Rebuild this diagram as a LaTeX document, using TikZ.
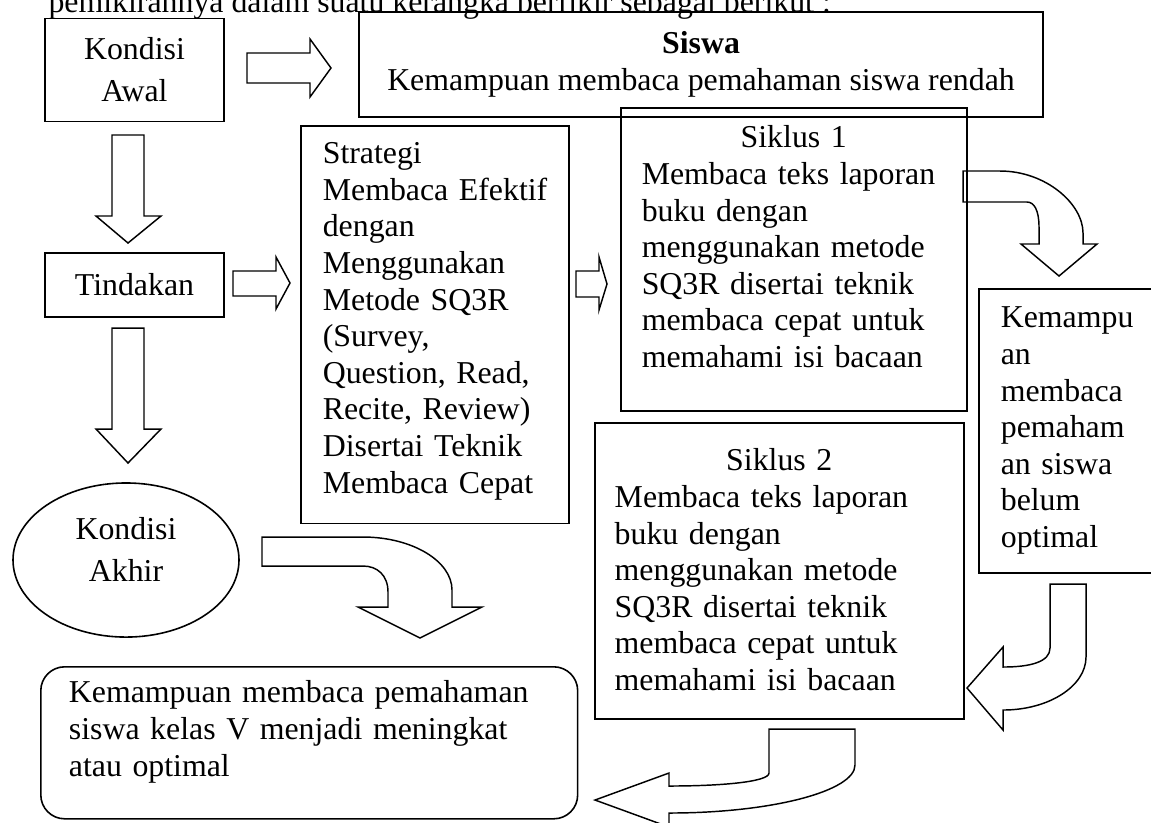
\documentclass[tikz,border=0pt]{standalone}
\usepackage{fontspec}
\setmainfont{Liberation Serif}
\usetikzlibrary{shapes.geometric}
\tikzset{
  kotak/.style={draw, line width=0.6pt, inner sep=0pt},
  isi/.style={kotak, anchor=north west, align=left, inner ysep=0pt},
  panah/.style={draw, line width=0.55pt, line join=miter},
}
\begin{document}
\begin{tikzpicture}[x=0.377pt, y=-0.377pt, font=\fontsize{12pt}{13.8pt}\selectfont]
	\useasboundingbox (0,0) rectangle (1151,822);
	\node[anchor=base west, inner sep=0pt] (judul) at (48,12) {pemikirannya dalam suatu kerangka berfikir sebagai berikut :};
	% kotak-kotak
	\node[kotak, minimum width=67.5pt, minimum height=38.8pt, align=center] (awal) at (134.5,70) {Kondisi\\[2pt]Awal};
	\node[kotak, minimum width=257.9pt, minimum height=39.6pt, align=center] (siswa) at (701,64.5) {\textbf{Siswa}\\Kemampuan membaca pemahaman siswa rendah};
	\node[kotak, minimum width=67.5pt, minimum height=24.1pt] (tindakan) at (134.5,285) {Tindakan};
	\node[isi, text width=84.4pt, inner xsep=8.3pt, text height=14.3pt, text depth=135.7pt] (strategi) at (300,125) {Strategi\\\mbox{Membaca Efektif}\\dengan\\Menggunakan\\Metode SQ3R\\(Survey,\\Question, Read,\\Recite, Review)\\Disertai Teknik\\Membaca Cepat};
	\node[isi, text width=114.6pt, inner xsep=7.9pt, text height=15.1pt, text depth=99.1pt] (siklus1) at (620,107) {\makebox[\linewidth]{Siklus 1}\\Membaca teks laporan\\buku dengan\\menggunakan metode\\SQ3R disertai teknik\\membaca cepat untuk\\memahami isi bacaan};
	\node[isi, text width=124.1pt, inner xsep=7.5pt, text height=18.1pt, text depth=93.5pt] (siklus2) at (594,422) {\makebox[\linewidth]{Siklus 2}\\Membaca teks laporan\\buku dengan\\menggunakan metode\\SQ3R disertai teknik\\membaca cepat untuk\\memahami isi bacaan};
	\node[isi, text width=52pt, inner xsep=8.3pt, text height=14.7pt, text depth=92.4pt] (belum) at (978,288) {Kemampu\\an\\membaca\\pemaham\\an siswa\\belum\\optimal};
	\node[isi, rounded corners=9pt, text width=181.2pt, inner xsep=10.6pt, text height=13.6pt, text depth=43.7pt] (hasil) at (40,666) {Kemampuan membaca pemahaman\\siswa kelas V menjadi meningkat\\atau optimal};
	\node[kotak, ellipse, minimum width=85.2pt, minimum height=58.1pt, align=center] (akhir) at (126,560) {Kondisi\\[2pt]Akhir\\[-6pt]};
	% panah lurus
	\draw[panah] (247,53)--(310,53)--(310,39)--(331,68)--(310,97)--(310,83)--(247,83)--cycle;
	\draw[panah] (112,135)--(144,135)--(144,216)--(161,216)--(128,243)--(96,216)--(112,216)--cycle;
	\draw[panah] (233,271)--(276,271)--(276,257)--(290,283)--(276,309)--(276,296)--(233,296)--cycle;
	\draw[panah] (576,271)--(599,271)--(599,257)--(607,284)--(599,310)--(599,297)--(576,297)--cycle;
	\draw[panah] (112,328)--(144,328)--(144,429)--(161,429)--(128,463)--(96,429)--(112,429)--cycle;
	% panah lengkung
	\draw[panah] (963,171)--(1000,171) .. controls (1046,171) and (1083,204) .. (1083,233)--(1083,244)--(1097,244)--(1059,276)--(1021,244)--(1039,244)--(1039,227) .. controls (1039,210) and (1034,202) .. (1027,202)--(963,202)--cycle;
	\draw[panah] (1050,584)--(1086,584)--(1086,657) .. controls (1086,686) and (1049,710) .. (1003,710)--(1003,730)--(967,688)--(1003,647)--(1003,667) .. controls (1030,667) and (1050,662) .. (1050,648)--cycle;
	\draw[panah] (769,729)--(855,729)--(855,765) .. controls (855,791) and (772,813) .. (669,813)--(669,827)--(595,800)--(669,773)--(669,786) .. controls (720,786) and (769,782) .. (769,773)--cycle;
	\draw[panah] (262,537)--(363,537) .. controls (412,537) and (452,561) .. (452,590)--(452,607)--(482,607)--(420,638)--(358,607)--(388,607)--(388,592) .. controls (388,575) and (377,566) .. (363,566)--(262,566)--cycle;
\end{tikzpicture}
\end{document}
